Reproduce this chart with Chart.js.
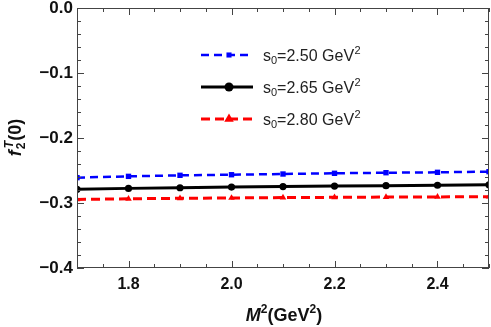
<!DOCTYPE html>
<html><head><meta charset="utf-8">
<script src="https://cdn.jsdelivr.net/npm/chart.js@4"></script>
<style>html,body{margin:0;padding:0;background:#fff;overflow:hidden}canvas{display:block}</style>
</head><body><canvas id="c" width="491" height="327" style="width:491px;height:327px"></canvas>
<script>
const xValues = [1.7, 1.8, 1.9, 2.0, 2.1, 2.2, 2.3, 2.4, 2.5];
const s250 = [-0.2610, -0.2590, -0.2574, -0.2565, -0.2554, -0.2543, -0.2534, -0.2528, -0.2518];
const s265 = [-0.2790, -0.2775, -0.2765, -0.2755, -0.2748, -0.2740, -0.2733, -0.2727, -0.2720];
const s280 = [-0.2945, -0.2935, -0.2928, -0.2922, -0.2917, -0.2913, -0.2909, -0.2906, -0.2903];
const seriesLabels = ['2.50', '2.65', '2.80'];
const xTicks = [1.8, 2.0, 2.2, 2.4];
const yTicks = [0, -0.1, -0.2, -0.3, -0.4];

const FONT = '"Liberation Sans", Arial, sans-serif';
const pts = arr => arr.map((v, i) => ({x: xValues[i], y: v}));

const datasets = [
  {label: seriesLabels[0], data: pts(s250), borderColor: '#0000ff', backgroundColor: '#0000ff',
   borderWidth: 2.5, borderDash: [8, 5], pointStyle: 'rect', pointRadius: 3.8, pointBorderWidth: 0, clip: 0, legendRadius: 3.6},
  {label: seriesLabels[1], data: pts(s265), borderColor: '#000000', backgroundColor: '#000000',
   borderWidth: 3, borderDash: [], pointStyle: 'circle', pointRadius: 3.6, pointBorderWidth: 0, clip: 0, legendRadius: 4.5},
  {label: seriesLabels[2], data: pts(s280), borderColor: '#ff0000', backgroundColor: '#ff0000',
   borderWidth: 3, borderDash: [9, 5], pointStyle: 'triangle', pointRadius: 3.8, pointBorderWidth: 0, clip: 0, legendRadius: 5.5}
];

const framePlugin = {
  id: 'frame',
  afterDatasetsDraw(chart) {
    const {ctx, chartArea: a, scales: {x, y}} = chart;
    ctx.save();
    ctx.strokeStyle = '#444';
    ctx.lineWidth = 1;
    ctx.strokeRect(a.left + 0.5, a.top + 0.5, a.right - a.left - 1, a.bottom - a.top - 1);
    ctx.beginPath();
    for (let k = 0; k <= 16; k++) {
      const v = 1.7 + k * 0.05;
      const px = Math.round(x.getPixelForValue(v)) + 0.5;
      const major = xTicks.some(t => Math.abs(t - v) < 1e-6);
      const len = major ? 7 : 4;
      ctx.moveTo(px, a.bottom); ctx.lineTo(px, a.bottom - len);
      ctx.moveTo(px, a.top); ctx.lineTo(px, a.top + len);
    }
    for (let k = 0; k <= 20; k++) {
      const v = -k * 0.02;
      const py = Math.round(y.getPixelForValue(v)) + 0.5;
      const major = k % 5 === 0;
      const len = major ? 7 : 4;
      ctx.moveTo(a.left, py); ctx.lineTo(a.left + len, py);
      ctx.moveTo(a.right, py); ctx.lineTo(a.right - len, py);
    }
    ctx.stroke();

    const rows = [55, 87, 119];
    datasets.forEach((d, i) => {
      const ly = rows[i];
      ctx.save();
      ctx.strokeStyle = d.borderColor;
      ctx.lineWidth = d.borderWidth;
      ctx.setLineDash(d.borderDash);
      ctx.beginPath(); ctx.moveTo(201, ly); ctx.lineTo(253, ly); ctx.stroke();
      ctx.setLineDash([]);
      ctx.fillStyle = d.backgroundColor;
      Chart.helpers.drawPoint(ctx, {pointStyle: d.pointStyle, radius: d.legendRadius, borderWidth: 0}, 229, ly);
      ctx.restore();
      ctx.fillStyle = '#222';
      ctx.textBaseline = 'alphabetic';
      ctx.textAlign = 'left';
      let tx = 263, by = ly + 6;
      ctx.font = `16px ${FONT}`;
      ctx.fillText('s', tx, by); tx += ctx.measureText('s').width;
      ctx.font = `11px ${FONT}`;
      ctx.fillText('0', tx, by + 3); tx += ctx.measureText('0').width;
      ctx.font = `16px ${FONT}`;
      const t = '=' + seriesLabels[i] + ' GeV';
      ctx.fillText(t, tx, by); tx += ctx.measureText(t).width;
      ctx.font = `11px ${FONT}`;
      ctx.fillText('2', tx + 0.5, by - 7);
    });

    ctx.fillStyle = '#111';
    {
      const parts = [
        {t: 'M', f: `italic bold 18px ${FONT}`, dy: 0},
        {t: '2', f: `bold 12px ${FONT}`, dy: -8},
        {t: '(GeV', f: `bold 18px ${FONT}`, dy: 0},
        {t: '2', f: `bold 12px ${FONT}`, dy: -8},
        {t: ')', f: `bold 18px ${FONT}`, dy: 0}
      ];
      let w = 0;
      parts.forEach(p => { ctx.font = p.f; w += ctx.measureText(p.t).width; });
      let tx = 284 - w / 2, by = 321;
      parts.forEach(p => { ctx.font = p.f; ctx.fillText(p.t, tx, by + p.dy); tx += ctx.measureText(p.t).width; });
    }
    {
      ctx.save();
      ctx.translate(21, 138);
      ctx.rotate(-Math.PI / 2);
      ctx.font = `italic bold 18px ${FONT}`;
      const wf = ctx.measureText('f').width;
      ctx.font = `bold 18px ${FONT}`;
      const wp = ctx.measureText('(0)').width;
      ctx.font = `italic bold 12px ${FONT}`;
      const wT = ctx.measureText('T').width;
      const total = wf + wT + 1 + wp;
      let tx = -total / 2;
      ctx.font = `italic bold 18px ${FONT}`;
      ctx.fillText('f', tx, 0); tx += wf + 1;
      ctx.font = `bold 12px ${FONT}`;
      ctx.fillText('2', tx, 4);
      ctx.font = `italic bold 12px ${FONT}`;
      ctx.fillText('T', tx + 1, -8); tx += wT + 1;
      ctx.font = `bold 18px ${FONT}`;
      ctx.fillText('(0)', tx, 0);
      ctx.restore();
    }
    ctx.restore();
  }
};

new Chart(document.getElementById('c'), {
  type: 'line',
  data: {datasets},
  options: {
    responsive: false, animation: false,
    layout: {autoPadding: false, padding: {top: 8, right: 2, left: 0, bottom: 0}},
    plugins: {legend: {display: false}, tooltip: {enabled: false}},
    elements: {line: {tension: 0}},
    scales: {
      x: {
        type: 'linear', min: 1.7, max: 2.5,
        afterBuildTicks: s => { s.ticks = xTicks.map(v => ({value: v})); },
        afterFit: s => { s.height = 59; s.paddingLeft = 0; s.paddingRight = 0; },
        grid: {display: false, drawTicks: false}, border: {display: false},
        ticks: {color: '#111', padding: 7, font: {family: FONT, size: 16, weight: 'bold'},
                callback: v => v.toFixed(1)}
      },
      y: {
        min: -0.4, max: 0,
        afterBuildTicks: s => { s.ticks = yTicks.map(v => ({value: v})); },
        afterFit: s => { s.width = 77; s.paddingTop = 0; s.paddingBottom = 0; },
        grid: {display: false, drawTicks: false}, border: {display: false},
        ticks: {color: '#111', padding: 4, font: {family: FONT, size: 17, weight: 'bold'},
                callback: v => (v < 0 ? '\u2212' : '') + Math.abs(v).toFixed(1)}
      }
    }
  },
  plugins: [framePlugin]
});
</script></body></html>
